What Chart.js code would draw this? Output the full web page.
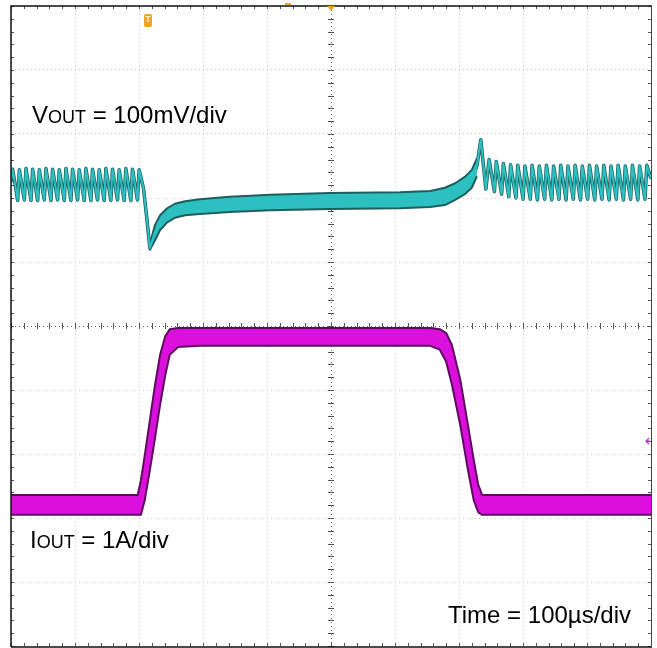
<!DOCTYPE html>
<html>
<head>
<meta charset="utf-8">
<script src="https://cdn.jsdelivr.net/npm/chart.js@4.4.1/dist/chart.umd.min.js"></script>
<style>
  html, body { margin: 0; padding: 0; background: #ffffff; }
  #wrap { width: 657px; height: 648px; position: relative; }
</style>
</head>
<body>
<div id="wrap"><canvas id="scope"></canvas></div>
<script>
// time in us (100us/div), VOUT in mV (100mV/div, 0 = channel marker), IOUT in A (1A/div)

// VOUT centre of the trace: ripple, load-step dip, recovery, unload spike, ripple
const vTime = [
  0, 2.6, 10.4, 13, 20.8, 23.4, 31.2, 33.8, 41.6, 44.2, 52, 54.6, 62.4, 65, 72.8, 75.4,
  83.2, 85.8, 93.6, 96.2, 104, 106.6, 114.4, 117, 124.8, 127.4, 135.2, 137.8, 145.6, 148.2,
  156, 158.6, 166.4, 169, 176.8, 179.4, 187.2, 189.8, 197.6, 200.2,
  207, 212, 217, 225, 233, 244, 256, 272, 295, 342, 405, 498, 608, 655, 678, 694, 709, 720, 728,
  734, 742, 747, 755.4, 758.2, 766.6, 769.4, 777.8, 780.6, 789, 791.8, 800.2, 803, 811.4, 814.2,
  822.6, 825.4, 833.8, 836.6, 845, 847.8, 856.2, 859, 867.4, 870.2, 878.6, 881.4, 889.8, 892.6,
  901, 903.8, 912.2, 915, 923.4, 926.2, 934.6, 937.4, 945.8, 948.6, 957, 959.8, 968.2, 971,
  979.4, 982.2, 990.6, 993.4, 1000
];
const vOut = [
  25, 45, -4, 44, -3, 46, -4, 45, -4, 44, -3, 46, -4, 45, -3, 44, -4, 46, -4, 45,
  -3, 44, -4, 46, -4, 45, -3, 44, -4, 46, -4, 45, -3, 44, -4, 46, -4, 45, -3, 44,
  15, -30, -78, -53, -38, -27, -20, -16, -12, -9, -6, -5, -3, -2, 3, 10, 19, 29, 50,
  91, 14, 60, 10, 57, 6, 54, 2, 52, 0, 51, -2, 50, -2, 51,
  -3, 50, -2, 51, -3, 50, -2, 51, -3, 50, -2, 51, -3, 50,
  -2, 51, -3, 50, -2, 51, -3, 50, -2, 51, -3, 50, -2, 51,
  -3, 50, -2, 51, 30
];

// VOUT noise band while the load is applied
const vBandTime = [212, 217, 225, 233, 244, 256, 272, 295, 342, 405, 498, 608, 655, 678, 694, 709, 720, 728];
const vBandHigh = [-28, -72, -42, -27, -16, -9, -5, -2, 2, 5, 8, 9, 11, 16, 23, 33, 44, 62];
const vBandLow  = [-32, -81, -66, -50, -38, -31, -27, -25, -22, -19, -17, -16, -14, -11, -3, 6, 16, 34];

// IOUT band (upper / lower edge of the noisy trace)
const iTime = [0, 198, 203, 209, 217, 225, 233, 241, 248, 261, 295, 655, 670, 680, 689, 702, 714, 723, 730, 736, 1000];
const iHigh = [0.36, 0.36, 0.59, 0.98, 1.53, 2.08, 2.55, 2.84, 2.95, 2.97, 2.97, 2.97, 2.95, 2.89, 2.70, 2.16, 1.45, 0.91, 0.52, 0.36, 0.36];
const iLow  = [0.05, 0.05, 0.05, 0.28, 0.75, 1.25, 1.77, 2.23, 2.55, 2.67, 2.69, 2.69, 2.63, 2.44, 2.08, 1.45, 0.75, 0.28, 0.09, 0.05, 0.05];

const timeRange = [0, 1000];
const voltRange = [-700, 300];
const ampRange = [-2, 8];

const zip = (xs, ys) => xs.map((x, i) => ({ x: x, y: ys[i] }));

const CYAN = "#2cc0c0";
const TEAL_DARK = "#1d5f5f";
const MAGENTA = "#dc10dc";
const PURPLE_DARK = "#5e0a5e";

const lineBase = { pointRadius: 0, tension: 0, borderJoinStyle: "round", fill: false };

// scope graticule: frame, centre cross ticks, edge ticks
const graticule = {
  id: "graticule",
  beforeDatasetsDraw(chart) {
    const { ctx, chartArea: a, scales } = chart;
    const xs = scales.x, ys = scales.v;
    const cx = xs.getPixelForValue(500), cy = ys.getPixelForValue(-200);
    ctx.save();
    ctx.strokeStyle = "#555";
    ctx.lineWidth = 1;
    ctx.beginPath();
    for (let t = 0; t <= 1000; t += 20) {
      const px = Math.round(xs.getPixelForValue(t)) + 0.5;
      ctx.moveTo(px, cy - 3); ctx.lineTo(px, cy + 3);
      ctx.moveTo(px, a.top); ctx.lineTo(px, a.top + 3);
      ctx.moveTo(px, a.bottom); ctx.lineTo(px, a.bottom - 3);
    }
    for (let v = -700; v <= 300; v += 20) {
      const py = Math.round(ys.getPixelForValue(v)) + 0.5;
      ctx.moveTo(cx - 3, py); ctx.lineTo(cx + 3, py);
      ctx.moveTo(a.left, py); ctx.lineTo(a.left + 3, py);
      ctx.moveTo(a.right, py); ctx.lineTo(a.right - 3, py);
    }
    ctx.stroke();
    ctx.restore();
  },
  afterDraw(chart) {
    const { ctx, chartArea: a, scales } = chart;
    ctx.save();
    // frame
    ctx.strokeStyle = "#111";
    ctx.lineWidth = 1.5;
    ctx.beginPath();
    ctx.moveTo(a.left, a.bottom + 1); ctx.lineTo(a.left, a.top);
    ctx.lineTo(a.right + 1, a.top);
    ctx.moveTo(a.left, a.bottom + 1); ctx.lineTo(a.right + 1, a.bottom + 1);
    ctx.stroke();
    ctx.strokeStyle = "#444";
    ctx.lineWidth = 1;
    ctx.beginPath();
    ctx.moveTo(a.right + 0.5, a.top); ctx.lineTo(a.right + 0.5, a.bottom);
    ctx.stroke();

    // trigger markers
    const tx = scales.x.getPixelForValue(214);
    ctx.fillStyle = "#f0a323";
    ctx.beginPath();
    ctx.roundRect(tx - 4, a.top + 8, 8, 13, 2);
    ctx.fill();
    ctx.fillStyle = "#fff4d8";
    ctx.font = "bold 9px 'Liberation Sans', Arial, sans-serif";
    ctx.textAlign = "center";
    ctx.textBaseline = "middle";
    ctx.fillText("T", tx, a.top + 14);
    const mx = scales.x.getPixelForValue(500);
    ctx.fillStyle = "#f0a323";
    ctx.beginPath();
    ctx.moveTo(mx - 4, a.top); ctx.lineTo(mx + 4, a.top); ctx.lineTo(mx, a.top + 5);
    ctx.closePath(); ctx.fill();
    const ox = scales.x.getPixelForValue(433);
    ctx.fillRect(ox - 3, a.top - 3, 6, 2);
    // current trigger level arrow
    const ay = scales.i.getPixelForValue(1.2);
    ctx.strokeStyle = "#c020c0";
    ctx.lineWidth = 1.2;
    ctx.beginPath();
    ctx.moveTo(a.right - 5, ay); ctx.lineTo(a.right - 1, ay);
    ctx.moveTo(a.right - 2, ay - 3); ctx.lineTo(a.right - 5, ay); ctx.lineTo(a.right - 2, ay + 3);
    ctx.stroke();

    // labels
    ctx.fillStyle = "#000";
    ctx.textAlign = "left";
    ctx.textBaseline = "alphabetic";
    const big = "24px 'Liberation Sans', Arial, sans-serif";
    const small = "18px 'Liberation Sans', Arial, sans-serif";
    const label = (x, y, main, sub, rest) => {
      ctx.font = big; ctx.fillText(main, x, y);
      x += ctx.measureText(main).width;
      ctx.font = small; ctx.fillText(sub, x, y);
      x += ctx.measureText(sub).width;
      ctx.font = big; ctx.fillText(rest, x, y);
    };
    label(32, 123, "V", "OUT", " = 100mV/div");
    label(30, 548, "I", "OUT", " = 1A/div");
    ctx.font = big;
    ctx.textAlign = "right";
    ctx.fillText("Time = 100\u00b5s/div", 631, 623);
    ctx.restore();
  }
};

const gridColor = (centre) => (c) => (c.tick && c.tick.value === centre ? "#666" : "#c6c6c6");

new Chart(document.getElementById("scope"), {
  type: "line",
  data: {
    datasets: [
      Object.assign({}, lineBase, { label: "VOUT", data: zip(vTime, vOut), yAxisID: "v", borderColor: CYAN, borderWidth: 2, order: 0 }),
      Object.assign({}, lineBase, { label: "VOUT band high", data: zip(vBandTime, vBandHigh), yAxisID: "v", borderColor: TEAL_DARK, borderWidth: 2, order: 1 }),
      Object.assign({}, lineBase, { label: "VOUT band low", data: zip(vBandTime, vBandLow), yAxisID: "v", borderColor: TEAL_DARK, borderWidth: 2, backgroundColor: CYAN, fill: 1, order: 2 }),
      Object.assign({}, lineBase, { label: "VOUT edge", data: zip(vTime, vOut), yAxisID: "v", borderColor: TEAL_DARK, borderWidth: 3.5, order: 3 }),
      Object.assign({}, lineBase, { label: "IOUT high", data: zip(iTime, iHigh), yAxisID: "i", borderColor: PURPLE_DARK, borderWidth: 2, order: 4 }),
      Object.assign({}, lineBase, { label: "IOUT low", data: zip(iTime, iLow), yAxisID: "i", borderColor: PURPLE_DARK, borderWidth: 2, backgroundColor: MAGENTA, fill: 4, order: 5 })
    ]
  },
  options: {
    responsive: true,
    maintainAspectRatio: false,
    animation: false,
    events: [],
    layout: { padding: { left: 11, right: 6, top: 6, bottom: 2 } },
    plugins: { legend: { display: false }, tooltip: { enabled: false } },
    scales: {
      x: {
        type: "linear",
        min: timeRange[0],
        max: timeRange[1],
        ticks: { display: false, stepSize: 100 },
        grid: { color: gridColor(500), lineWidth: 1, drawTicks: false },
        border: { display: false, dash: [1, 3] }
      },
      v: {
        type: "linear",
        position: "left",
        min: voltRange[0],
        max: voltRange[1],
        ticks: { display: false, stepSize: 100 },
        grid: { color: gridColor(-200), lineWidth: 1, drawTicks: false },
        border: { display: false, dash: [1, 3] }
      },
      i: {
        type: "linear",
        display: false,
        min: ampRange[0],
        max: ampRange[1]
      }
    }
  },
  plugins: [graticule]
});
</script>
</body>
</html>
